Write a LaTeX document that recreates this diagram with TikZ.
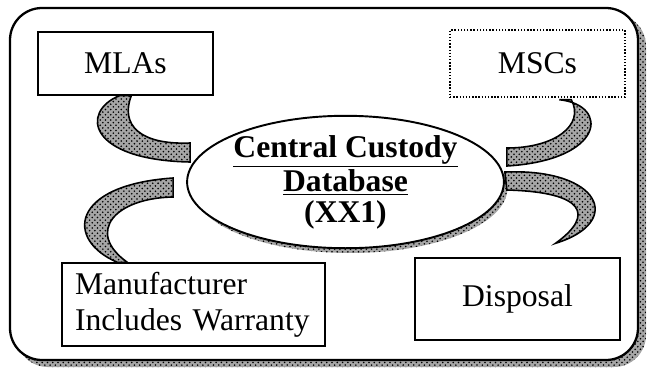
\documentclass[tikz,border=0pt]{standalone}
\usepackage{fontspec}
\setmainfont{Liberation Serif}
\usetikzlibrary{shapes.geometric,patterns,calc}

\begin{document}
\begin{tikzpicture}[x=0.02cm,y=-0.02cm,inner sep=1mm,
		box/.style={rectangle,draw,line width=0.8pt,fill=white,font=\fontsize{18}{20.5}\selectfont},
		shade/.style={preaction={fill=black!35},pattern=crosshatch dots,pattern color=black},
		swoosh/.style={shade,draw,line width=0.9pt}]
	\useasboundingbox (0,0) rectangle (650,373);
	% cadre
	\fill [shade,rounded corners=0.64cm] (16,14) rectangle (646,367);
	\draw [line width=1.3pt,fill=white,rounded corners=0.64cm] (10,8) rectangle (638,360);
	\node [box,minimum width=3.5cm,minimum height=1.26cm] (mla) at (125.5,63.5) {MLAs};
	\node [box,densely dotted,minimum width=3.5cm,minimum height=1.34cm] (msc) at (537.5,63.5) {MSCs};
	\node [box,minimum width=5.26cm,minimum height=1.66cm,text width=4.74cm,inner xsep=0.26cm,align=left] (mfr) at (193.5,304.5) {Manufacturer\\Includes Warranty};
	\node [box,minimum width=4.1cm,minimum height=1.64cm] (disp) at (517.5,299) {Disposal};
%	ombre de la base
	\node [ellipse,shade,minimum width=6.3cm,minimum height=2.6cm] (dbs) at (350,188) {};
	\node [ellipse,draw,line width=1.1pt,fill=white,minimum width=6.3cm,minimum height=2.6cm,inner sep=0pt,align=center,font=\bfseries\fontsize{18}{17.6}\selectfont] (db) at (345.5,182)
		{\underline{Central Custody}\\\underline{Database}\\(XX1)};
	% fleches
	\path [swoosh] ($(mla.south west)+(82,0)$) .. controls (80,112) and (88,160) .. ($(db.west)+(4,-20)$)
		-- ($(db.west)+(4,-39)$) .. controls (140,145) and (120,125) .. ($(mla.south west)+(94,0)$) -- cycle;
	\path [swoosh] ($(mfr.north west)+(56,0)$) .. controls (65,240) and (70,185) .. ($(db.west)+(-13,-4)$)
		-- ($(db.west)+(-13,15)$) .. controls (115,198) and (85,232) .. ($(mfr.north west)+(66,0)$) -- cycle;
	\path [swoosh] ($(msc.south west)+(110,2)$) .. controls (610,105) and (605,160) .. ($(db.east)+(2,-16)$)
		-- ($(db.east)+(2,-34)$) .. controls (555,148) and (585,125) .. ($(msc.south west)+(122,2)$) -- cycle;
	\path [swoosh] ($(db.east)+(0,-10)$) .. controls (600,168) and (625,222) .. ($(disp.north)+(38,-14)$)
		.. controls (595,215) and (585,192) .. ($(db.east)+(2,8)$) -- cycle;
\end{tikzpicture}
\end{document}
